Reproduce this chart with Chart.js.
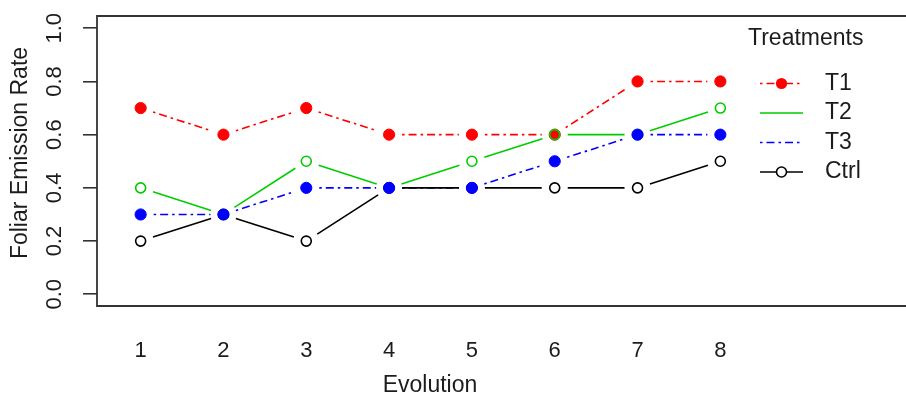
<!DOCTYPE html>
<html><head><meta charset="utf-8">
<script src="https://cdn.jsdelivr.net/npm/chart.js@4/dist/chart.umd.min.js"></script>
<style>html,body{margin:0;padding:0;background:#fff;overflow:hidden}</style>
</head><body><canvas id="c" width="906" height="396"></canvas>
<script>
const evolution = [1, 2, 3, 4, 5, 6, 7, 8];
const t1Values = [0.7, 0.6, 0.7, 0.6, 0.6, 0.6, 0.8, 0.8];
const t2Values = [0.4, 0.3, 0.5, 0.4, 0.5, 0.6, 0.6, 0.7];
const t3Values = [0.3, 0.3, 0.4, 0.4, 0.4, 0.5, 0.6, 0.6];
const ctrlValues = [0.2, 0.3, 0.2, 0.4, 0.4, 0.4, 0.4, 0.5];
const yTickValues = [0, 0.2, 0.4, 0.6, 0.8, 1.0];
const seriesNames = ['T1', 'T2', 'T3', 'Ctrl'];
const legendTitle = 'Treatments';
const xTitle = 'Evolution';
const yTitle = 'Foliar Emission Rate';

const FONT = '"Liberation Sans", Arial, sans-serif';
const TEXT = '#1c1c1c';
const AXIS = '#333333';

function pts(vals) { return evolution.map((x, i) => ({ x: x, y: vals[i] })); }

const styles = [
  { color: '#FF0000', dash: [2.5, 4, 8, 4], hollow: false, legendMarker: true, order: 3 },
  { color: '#00CD00', dash: [], hollow: true, legendMarker: false, order: 2 },
  { color: '#0000FF', dash: [2.5, 4, 8, 4], hollow: false, legendMarker: false, order: 0 },
  { color: '#000000', dash: [], hollow: true, legendMarker: true, order: 1 }
];
const valueSets = [t1Values, t2Values, t3Values, ctrlValues];

const datasets = seriesNames.map((name, i) => ({
  label: name,
  data: pts(valueSets[i]),
  showLine: false,
  order: styles[i].order,
  pointRadius: styles[i].hollow ? 5 : 5.6,
  pointBorderWidth: styles[i].hollow ? 1.6 : 1,
  pointBorderColor: styles[i].color,
  pointBackgroundColor: styles[i].hollow ? 'rgba(0,0,0,0)' : styles[i].color,
  borderColor: styles[i].color,
  backgroundColor: styles[i].color,
  _style: styles[i]
}));

const gapLines = {
  id: 'gapLines',
  beforeDatasetsDraw(chart) {
    const ctx = chart.ctx, a = chart.chartArea, gap = 13;
    ctx.save();
    ctx.beginPath(); ctx.rect(a.left, a.top, a.right - a.left, a.bottom - a.top); ctx.clip();
    chart.data.datasets.forEach((ds, i) => {
      const meta = chart.getDatasetMeta(i);
      const p = meta.data;
      ctx.strokeStyle = ds._style.color;
      ctx.lineWidth = 1.6;
      ctx.setLineDash(ds._style.dash);
      for (let k = 0; k < p.length - 1; k++) {
        const x0 = p[k].x, y0 = p[k].y, x1 = p[k + 1].x, y1 = p[k + 1].y;
        const dx = x1 - x0, dy = y1 - y0, len = Math.hypot(dx, dy);
        if (len <= 2 * gap) continue;
        const ux = dx / len, uy = dy / len;
        ctx.beginPath();
        ctx.moveTo(x0 + ux * gap, y0 + uy * gap);
        ctx.lineTo(x1 - ux * gap, y1 - uy * gap);
        ctx.stroke();
      }
    });
    ctx.restore();
  },
  afterDraw(chart) {
    const ctx = chart.ctx, a = chart.chartArea, ys = chart.scales.y;
    ctx.save();
    ctx.strokeStyle = AXIS; ctx.lineWidth = 1.8; ctx.setLineDash([]);
    ctx.beginPath();
    ctx.moveTo(chart.width + 2, a.top); ctx.lineTo(a.left, a.top);
    ctx.lineTo(a.left, a.bottom); ctx.lineTo(chart.width + 2, a.bottom);
    ctx.stroke();
    ctx.fillStyle = TEXT;
    ctx.font = '22px ' + FONT;
    ctx.textAlign = 'center'; ctx.textBaseline = 'middle';
    yTickValues.forEach(v => {
      const y = ys.getPixelForValue(v);
      ctx.save(); ctx.translate(55, y); ctx.rotate(-Math.PI / 2);
      ctx.fillText(v.toFixed(1), 0, 0); ctx.restore();
    });
    ctx.font = '23px ' + FONT;
    ctx.save(); ctx.translate(21, 153); ctx.rotate(-Math.PI / 2);
    ctx.fillText(yTitle, 0, 0); ctx.restore();
    ctx.fillText(xTitle, 430, 386);
    ctx.textAlign = 'left';
    ctx.fillText(legendTitle, 748, 39);
    const rows = [83.5, 113, 142.5, 172];
    chart.data.datasets.forEach((ds, i) => {
      const st = ds._style, y = rows[i];
      ctx.strokeStyle = st.color; ctx.lineWidth = 1.6;
      ctx.setLineDash(st.dash);
      ctx.beginPath(); ctx.moveTo(760, y); ctx.lineTo(803, y); ctx.stroke();
      ctx.setLineDash([]);
      if (st.legendMarker) {
        ctx.beginPath(); ctx.arc(781.5, y, st.hollow ? 5 : 5.6, 0, Math.PI * 2);
        if (st.hollow) { ctx.fillStyle = '#fff'; ctx.fill(); ctx.stroke(); }
        else { ctx.fillStyle = st.color; ctx.fill(); }
      }
      ctx.fillStyle = TEXT;
      ctx.fillText(ds.label, 825, y);
    });
    ctx.restore();
  }
};

new Chart(document.getElementById('c'), {
  type: 'line',
  data: { datasets: datasets },
  plugins: [gapLines],
  options: {
    responsive: false,
    animation: false,
    layout: { padding: { top: 16, left: 0, right: 0, bottom: 0 } },
    plugins: { legend: { display: false }, tooltip: { enabled: false } },
    scales: {
      x: {
        type: 'linear', min: 0.473, max: 10.162,
        afterBuildTicks(s) { s.ticks = evolution.map(v => ({ value: v })); },
        afterFit(s) { s.height = 90; },
        grid: { display: false, drawTicks: false },
        border: { display: false },
        ticks: { color: TEXT, font: { family: FONT, size: 22 }, padding: 32, maxRotation: 0, autoSkip: false,
          callback: v => String(v) }
      },
      y: {
        type: 'linear', min: -0.044, max: 1.046,
        afterBuildTicks(s) { s.ticks = yTickValues.map(v => ({ value: v })); },
        afterFit(s) { s.width = 97; },
        grid: { drawOnChartArea: false, drawTicks: true, tickLength: 14, color: AXIS, lineWidth: 1.6 },
        border: { display: false },
        ticks: { display: false }
      }
    }
  }
});
</script>
</body></html>
